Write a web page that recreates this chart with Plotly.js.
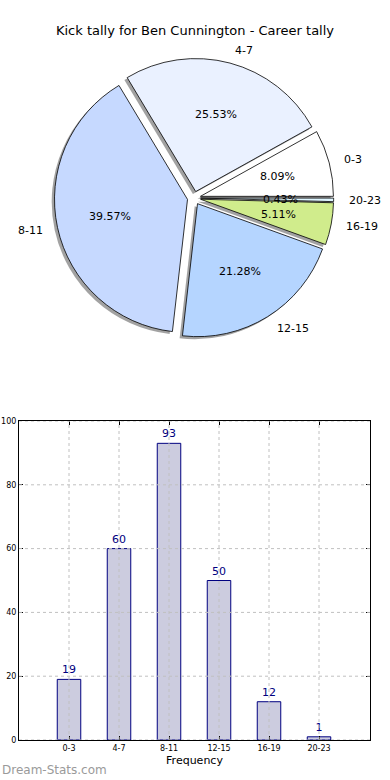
<!DOCTYPE html>
<html>
<head>
<meta charset="utf-8">
<script src="https://cdn.plot.ly/plotly-3.0.1.min.js"></script>
<style>html,body{margin:0;padding:0;background:#fff;}#chart{width:390px;height:780px;}</style>
</head>
<body>
<div id="chart"></div>
<script>
// ---- data ----
var categories = ["0-3", "4-7", "8-11", "12-15", "16-19", "20-23"];
var kickCounts = [19, 60, 93, 50, 12, 1];
var sliceColors = ["#ffffff", "#eaf1ff", "#c6d9ff", "#b5d5ff", "#d0ec8c", "#dff6ff"];
var yTickValues = [0, 20, 40, 60, 80, 100];
var chartTitle = "Kick tally for Ben Cunnington - Career tally";
var xAxisTitle = "Frequency";
var watermark = "Dream-Stats.com";

// ---- layout geometry (pixels) ----
var W = 390, H = 780;
var FONT = "DejaVu Sans, Liberation Sans, sans-serif";
var pie = {cx: 194, cy: 198, r: 133, pull: 0.05};
var shadowOffset = {dx: -2.8, dy: 2.5};
function px(x) { return x / W; }
function py(y) { return 1 - y / H; }
function pieDomain(cx, cy) {
  var R = pie.r * (1 + pie.pull);
  return {x: [px(cx - R), px(cx + R)], y: [py(cy + R), py(cy - R)]};
}

var total = kickCounts.reduce(function (a, b) { return a + b; }, 0);
// first slice starts at 3 o'clock and slices run counterclockwise;
// Plotly places the first counterclockwise slice clockwise of `rotation`.
var pieRotation = 90 - 360 * kickCounts[0] / total;

var shadowTrace = {
  type: "pie", labels: categories, values: kickCounts, sort: false,
  direction: "counterclockwise", rotation: pieRotation,
  pull: categories.map(function () { return pie.pull; }),
  marker: {colors: categories.map(function () { return "rgba(70,70,70,0.5)"; }), line: {width: 0}},
  textinfo: "none", hoverinfo: "skip", showlegend: false,
  domain: pieDomain(pie.cx + shadowOffset.dx, pie.cy + shadowOffset.dy)
};
var pieTrace = {
  type: "pie", labels: categories, values: kickCounts, sort: false,
  direction: "counterclockwise", rotation: pieRotation,
  pull: categories.map(function () { return pie.pull; }),
  marker: {colors: sliceColors, line: {color: "#000000", width: 0.8}},
  textinfo: "none", hoverinfo: "label+value+percent", showlegend: false,
  domain: pieDomain(pie.cx, pie.cy)
};

var barTrace = {
  type: "bar", x: categories, y: kickCounts, width: 0.47,
  marker: {color: "#ccccdf", line: {color: "#000080", width: 1}},
  text: kickCounts.map(String), textposition: "outside", cliponaxis: false,
  textfont: {family: FONT, size: 11, color: "#000080"},
  hoverinfo: "x+y", showlegend: false, xaxis: "x", yaxis: "y"
};

// pie labels (matplotlib style: labels at 1.1r, percentages at 0.6r, plus explode)
var annotations = [];
var cum = 0;
kickCounts.forEach(function (v, i) {
  var frac = v / total;
  var mid = (cum + frac / 2) * 2 * Math.PI;
  cum += frac;
  var c = Math.cos(mid), s = Math.sin(mid);
  var lr = (1.1 + pie.pull) * pie.r;
  annotations.push({
    xref: "paper", yref: "paper", x: px(pie.cx + lr * c), y: py(pie.cy - lr * s),
    text: categories[i], showarrow: false, xanchor: c > 0 ? "left" : "right", yanchor: "middle",
    font: {family: FONT, size: 11, color: "#000"}
  });
  var pr = (0.6 + pie.pull) * pie.r;
  annotations.push({
    xref: "paper", yref: "paper", x: px(pie.cx + pr * c), y: py(pie.cy - pr * s),
    text: (frac * 100).toFixed(2) + "%", showarrow: false, xanchor: "center", yanchor: "middle",
    font: {family: FONT, size: 11, color: "#000"}
  });
});
annotations.push({
  xref: "paper", yref: "paper", x: px(0), y: py(770), text: watermark, showarrow: false,
  xanchor: "left", yanchor: "middle", font: {family: FONT, size: 12, color: "#9a9a9a"}
});

// dotted grid drawn above the bars (matplotlib style)
var gridLine = {color: "#c0c0c0", width: 1, dash: "dot"};
var shapes = [];
categories.forEach(function (c) {
  shapes.push({type: "line", layer: "above", xref: "x", yref: "y domain", x0: c, x1: c, y0: 0, y1: 1, line: gridLine});
});
yTickValues.forEach(function (t) {
  shapes.push({type: "line", layer: "above", xref: "x domain", yref: "y", x0: 0, x1: 1, y0: t, y1: t, line: gridLine});
});

var layout = {
  width: W, height: H, margin: {l: 0, r: 0, t: 0, b: 0},
  paper_bgcolor: "#ffffff", plot_bgcolor: "#ffffff",
  font: {family: FONT, color: "#000"},
  title: {text: chartTitle, x: 0.5, xanchor: "center", y: py(30), yanchor: "middle",
          font: {family: FONT, size: 13, color: "#000"}},
  showlegend: false,
  xaxis: {
    domain: [px(19), px(370)], type: "category", range: [-1, 6.02],
    showgrid: false, zeroline: false, showline: true, linecolor: "#000", linewidth: 1, mirror: "ticks",
    ticks: "inside", ticklen: 4, tickcolor: "#000", tickwidth: 1,
    tickfont: {family: FONT, size: 8, color: "#000"},
    title: {text: xAxisTitle, font: {family: FONT, size: 11, color: "#000"}, standoff: 4},
    fixedrange: true
  },
  yaxis: {
    domain: [py(740), py(421)], range: [0, 100], tickvals: yTickValues,
    showgrid: false, zeroline: false, showline: true, linecolor: "#000", linewidth: 1, mirror: "ticks",
    ticks: "inside", ticklen: 4, tickcolor: "#000", tickwidth: 1,
    tickfont: {family: FONT, size: 8, color: "#000"},
    fixedrange: true
  },
  annotations: annotations,
  shapes: shapes,
  bargap: 0
};

Plotly.newPlot("chart", [shadowTrace, pieTrace, barTrace], layout, {displayModeBar: false, staticPlot: true});
</script>
</body>
</html>
